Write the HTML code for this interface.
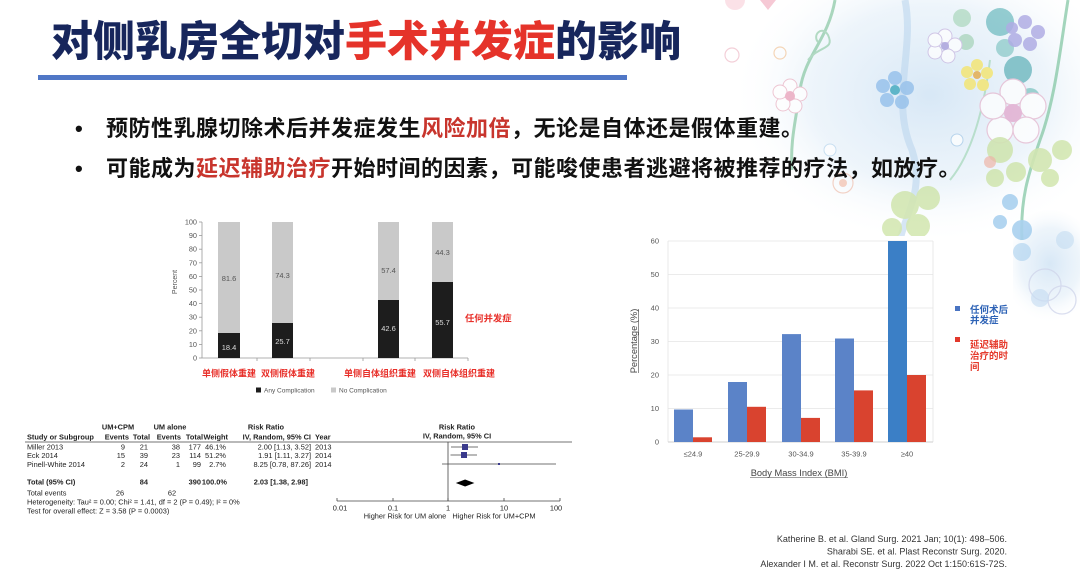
<!DOCTYPE html>
<html><head><meta charset="utf-8">
<style>
html,body{margin:0;padding:0;}
body{width:1080px;height:572px;position:relative;overflow:hidden;background:#fff;font-family:"Liberation Sans","Noto Sans CJK SC",sans-serif;}
.abs{position:absolute;}
#title{left:51px;top:20px;font-size:42px;line-height:44px;font-weight:900;color:#17265c;white-space:nowrap;letter-spacing:0px;}
#title .r{color:#e5332a;}
#bar{left:38px;top:75px;width:589px;height:5px;background:#5077c6;}
.bl{left:75px;font-size:22px;line-height:26px;font-weight:700;color:#111;white-space:nowrap;letter-spacing:0.5px;}
.bl .d{display:inline-block;width:31px;}
.bl .r{color:#c8352d;}
svg{position:absolute;left:0;top:0;}
</style></head>
<body>
<svg width="1080" height="572" viewBox="0 0 1080 572" xmlns="http://www.w3.org/2000/svg">
<defs>
<radialGradient id="wash" cx="0.5" cy="0.45" r="0.5">
<stop offset="0" stop-color="#d3e5f5" stop-opacity="0.9"/>
<stop offset="0.6" stop-color="#e2eef8" stop-opacity="0.6"/>
<stop offset="1" stop-color="#ffffff" stop-opacity="0"/>
</radialGradient>
</defs>
<!-- floral background -->
<ellipse cx="930" cy="110" rx="200" ry="150" fill="url(#wash)"/>
<ellipse cx="1050" cy="270" rx="50" ry="60" fill="url(#wash)"/>
<g opacity="0.75">
<path d="M835,0 C828,40 805,55 800,90 C796,120 790,140 792,170" stroke="#8fcaa8" stroke-width="3" fill="none"/>
<path d="M808,60 C820,45 835,50 828,35 C822,25 812,35 818,42" stroke="#9cd0b0" stroke-width="2" fill="none"/>
<path d="M905,0 C915,50 890,100 912,150 C925,190 905,215 900,240" stroke="#bcd6ee" stroke-width="7" fill="none" opacity="0.8"/>
<path d="M1068,0 C1060,50 1055,100 1040,140 C1028,175 1020,200 1022,240" stroke="#86c8a6" stroke-width="3" fill="none"/>
<path d="M990,60 C985,100 975,150 950,180" stroke="#a9d9bd" stroke-width="2" fill="none"/>
<g opacity="0.85">
<circle cx="1000" cy="22" r="14" fill="#5db3b8"/>
<circle cx="1018" cy="70" r="14" fill="#4ea8b0"/>
<circle cx="1030" cy="98" r="10" fill="#6dbdb8"/>
<circle cx="1005" cy="48" r="9" fill="#7cc2c0"/>
<circle cx="962" cy="18" r="9" fill="#a4d4b6"/>
<circle cx="966" cy="42" r="8" fill="#9dcfb0"/>
</g>
<g fill="#9a94dc" opacity="0.85">
<circle cx="1025" cy="22" r="7"/><circle cx="1038" cy="32" r="7"/><circle cx="1030" cy="44" r="7"/><circle cx="1015" cy="40" r="7"/><circle cx="1012" cy="28" r="6"/>
</g>
<g fill="#fff" stroke="#c9b8e0" stroke-width="1">
<circle cx="945" cy="36" r="7"/><circle cx="955" cy="45" r="7"/><circle cx="948" cy="56" r="7"/><circle cx="935" cy="52" r="7"/><circle cx="935" cy="40" r="7"/>
</g>
<circle cx="945" cy="46" r="4" fill="#a59ad8"/>
<g fill="#f5e463"><circle cx="977" cy="65" r="6"/><circle cx="987" cy="73" r="6"/><circle cx="983" cy="85" r="6"/><circle cx="970" cy="84" r="6"/><circle cx="967" cy="72" r="6"/></g>
<circle cx="977" cy="75" r="4" fill="#e4a43a"/>
<g fill="#86b7e8" opacity="0.9"><circle cx="895" cy="78" r="7"/><circle cx="907" cy="88" r="7"/><circle cx="902" cy="102" r="7"/><circle cx="887" cy="100" r="7"/><circle cx="883" cy="86" r="7"/></g>
<circle cx="895" cy="90" r="5" fill="#34a3b8"/>
<g fill="#fff" stroke="#e6b8cf" stroke-width="1.2">
<circle cx="1013" cy="92" r="13"/><circle cx="1033" cy="106" r="13"/><circle cx="1026" cy="130" r="13"/><circle cx="1000" cy="130" r="13"/><circle cx="993" cy="106" r="13"/>
</g>
<circle cx="1013" cy="113" r="9" fill="#e2a6cc"/>
<g fill="#fff" stroke="#eab4c4" stroke-width="1">
<circle cx="790" cy="86" r="7"/><circle cx="800" cy="94" r="7"/><circle cx="795" cy="106" r="7"/><circle cx="783" cy="104" r="7"/><circle cx="780" cy="92" r="7"/>
</g>
<circle cx="790" cy="96" r="5" fill="#eaa0b8"/>
<circle cx="732" cy="55" r="7" fill="none" stroke="#f0c0cc" stroke-width="1.2"/>
<circle cx="780" cy="53" r="6" fill="none" stroke="#f2c8a0" stroke-width="1.2"/>
<circle cx="843" cy="183" r="10" fill="none" stroke="#f0c4b4" stroke-width="1.2"/>
<circle cx="843" cy="183" r="4" fill="#f3c2b0"/>
<path d="M760,0 l8,10 l8,-10 z" fill="#f3b8c8"/>
<circle cx="735" cy="0" r="10" fill="#f6c6d2" opacity="0.7"/>
<g fill="#c7e09a" opacity="0.9">
<circle cx="905" cy="205" r="14"/><circle cx="928" cy="198" r="12"/><circle cx="918" cy="226" r="12"/><circle cx="892" cy="228" r="10"/>
<circle cx="1000" cy="150" r="13"/><circle cx="1040" cy="160" r="12"/><circle cx="1062" cy="150" r="10"/><circle cx="1050" cy="178" r="9"/><circle cx="1016" cy="172" r="10"/><circle cx="995" cy="178" r="9"/>
</g>
<circle cx="990" cy="162" r="6" fill="#eea08c" opacity="0.7"/>
<g fill="#8ec3ea" opacity="0.9"><circle cx="1010" cy="202" r="8"/><circle cx="1000" cy="222" r="7"/><circle cx="1022" cy="230" r="10"/></g>
<circle cx="957" cy="140" r="6" fill="#fff" stroke="#a8cbe8" stroke-width="1"/>
<circle cx="830" cy="150" r="6" fill="#fff" stroke="#bcd8ee" stroke-width="1"/>
<!-- right edge below chart box -->
<circle cx="1022" cy="252" r="9" fill="#a9cfee" opacity="0.8"/>
<circle cx="1045" cy="285" r="16" fill="none" stroke="#cfd4ea" stroke-width="1.3"/>
<circle cx="1062" cy="300" r="14" fill="none" stroke="#cfd4ea" stroke-width="1.3"/>
<circle cx="1040" cy="298" r="9" fill="#bcd5ef" opacity="0.7"/>
<circle cx="1065" cy="240" r="9" fill="#bdd9ef" opacity="0.7"/>
</g>
<!-- white chart panel -->
<rect x="618" y="236" width="395" height="250" fill="#fff"/>

<!-- ===== Left stacked bar chart ===== -->
<g font-family="Liberation Sans, sans-serif" font-size="7.3" fill="#555">
<line x1="202" y1="222" x2="202" y2="358" stroke="#999" stroke-width="0.8"/>
<line x1="202" y1="358" x2="468" y2="358" stroke="#999" stroke-width="0.8"/>
<g stroke="#999" stroke-width="0.8">
<line x1="199" y1="222" x2="202" y2="222"/><line x1="199" y1="235.6" x2="202" y2="235.6"/><line x1="199" y1="249.2" x2="202" y2="249.2"/><line x1="199" y1="262.8" x2="202" y2="262.8"/><line x1="199" y1="276.4" x2="202" y2="276.4"/><line x1="199" y1="290" x2="202" y2="290"/><line x1="199" y1="303.6" x2="202" y2="303.6"/><line x1="199" y1="317.2" x2="202" y2="317.2"/><line x1="199" y1="330.8" x2="202" y2="330.8"/><line x1="199" y1="344.4" x2="202" y2="344.4"/><line x1="199" y1="358" x2="202" y2="358"/>
<line x1="257" y1="358" x2="257" y2="361"/><line x1="310" y1="358" x2="310" y2="361"/><line x1="363" y1="358" x2="363" y2="361"/><line x1="415" y1="358" x2="415" y2="361"/><line x1="468" y1="358" x2="468" y2="361"/>
</g>
<g text-anchor="end">
<text x="197" y="224.5">100</text><text x="197" y="238">90</text><text x="197" y="251.7">80</text><text x="197" y="265.3">70</text><text x="197" y="278.9">60</text><text x="197" y="292.5">50</text><text x="197" y="306.1">40</text><text x="197" y="319.7">30</text><text x="197" y="333.3">20</text><text x="197" y="346.9">10</text><text x="197" y="360.5">0</text>
</g>
<text transform="translate(177,282) rotate(-90)" text-anchor="middle" font-size="7">Percent</text>
<rect x="218" y="222" width="22" height="111" fill="#c9c9c9"/>
<rect x="218" y="333" width="22" height="25" fill="#1d1d1d"/>
<rect x="272" y="222" width="21" height="101" fill="#c9c9c9"/>
<rect x="272" y="323" width="21" height="35" fill="#1d1d1d"/>
<rect x="378" y="222" width="21" height="78" fill="#c9c9c9"/>
<rect x="378" y="300" width="21" height="58" fill="#1d1d1d"/>
<rect x="432" y="222" width="21" height="60" fill="#c9c9c9"/>
<rect x="432" y="282" width="21" height="76" fill="#1d1d1d"/>
<g text-anchor="middle" font-size="7.5">
<text x="229" y="281" fill="#555">81.6</text><text x="282.5" y="278" fill="#555">74.3</text><text x="388.5" y="273" fill="#555">57.4</text><text x="442.5" y="255" fill="#555">44.3</text>
<text x="229" y="350" fill="#ddd">18.4</text><text x="282.5" y="344" fill="#ddd">25.7</text><text x="388.5" y="331" fill="#ddd">42.6</text><text x="442.5" y="325" fill="#ddd">55.7</text>
</g>
<g font-family="Liberation Sans, Noto Sans CJK SC, sans-serif" font-weight="700" font-size="9" fill="#e8302a">
<text x="202" y="376.5">单侧假体重建</text>
<text x="261" y="376.5">双侧假体重建</text>
<text x="344" y="376.5">单侧自体组织重建</text>
<text x="423" y="376.5">双侧自体组织重建</text>
<text x="465" y="321.5" font-size="9.3">任何并发症</text>
</g>
<rect x="256" y="387.5" width="5" height="5" fill="#1d1d1d"/>
<text x="264" y="392.5" font-size="6.5">Any Complication</text>
<rect x="331" y="387.5" width="5" height="5" fill="#c9c9c9"/>
<text x="339" y="392.5" font-size="6.5">No Complication</text>
</g>

<!-- ===== Forest plot ===== -->
<g font-family="Liberation Sans, sans-serif" font-size="7.4" fill="#222">
<g font-weight="700">
<text x="118" y="429.5" text-anchor="middle">UM+CPM</text>
<text x="170" y="429.5" text-anchor="middle">UM alone</text>
<text x="266" y="429.5" text-anchor="middle">Risk Ratio</text>
<text x="27" y="439.5">Study or Subgroup</text>
<text x="129" y="439.5" text-anchor="end">Events</text>
<text x="150" y="439.5" text-anchor="end">Total</text>
<text x="181" y="439.5" text-anchor="end">Events</text>
<text x="203" y="439.5" text-anchor="end">Total</text>
<text x="228" y="439.5" text-anchor="end">Weight</text>
<text x="311" y="439.5" text-anchor="end">IV, Random, 95% CI</text>
<text x="315" y="439.5">Year</text>
<text x="457" y="429.5" text-anchor="middle">Risk Ratio</text>
<text x="457" y="438.5" text-anchor="middle">IV, Random, 95% CI</text>
</g>
<line x1="25" y1="442" x2="572" y2="442" stroke="#444" stroke-width="0.7"/>
<text x="27" y="449.5">Miller 2013</text>
<text x="125" y="449.5" text-anchor="end">9</text><text x="148" y="449.5" text-anchor="end">21</text><text x="180" y="449.5" text-anchor="end">38</text><text x="201" y="449.5" text-anchor="end">177</text><text x="226" y="449.5" text-anchor="end">46.1%</text><text x="311" y="449.5" text-anchor="end">2.00 [1.13, 3.52]</text><text x="315" y="449.5">2013</text>
<text x="27" y="458">Eck 2014</text>
<text x="125" y="458" text-anchor="end">15</text><text x="148" y="458" text-anchor="end">39</text><text x="180" y="458" text-anchor="end">23</text><text x="201" y="458" text-anchor="end">114</text><text x="226" y="458" text-anchor="end">51.2%</text><text x="311" y="458" text-anchor="end">1.91 [1.11, 3.27]</text><text x="315" y="458">2014</text>
<text x="27" y="467">Pinell-White 2014</text>
<text x="125" y="467" text-anchor="end">2</text><text x="148" y="467" text-anchor="end">24</text><text x="180" y="467" text-anchor="end">1</text><text x="201" y="467" text-anchor="end">99</text><text x="226" y="467" text-anchor="end">2.7%</text><text x="311" y="467" text-anchor="end">8.25 [0.78, 87.26]</text><text x="315" y="467">2014</text>
<g font-weight="700">
<text x="27" y="484.5">Total (95% CI)</text>
<text x="148" y="484.5" text-anchor="end">84</text><text x="201" y="484.5" text-anchor="end">390</text><text x="227" y="484.5" text-anchor="end">100.0%</text><text x="308" y="484.5" text-anchor="end">2.03 [1.38, 2.98]</text>
</g>
<text x="27" y="495.5">Total events</text>
<text x="120" y="495.5" text-anchor="middle">26</text><text x="172" y="495.5" text-anchor="middle">62</text>
<text x="27" y="504.5">Heterogeneity: Tau² = 0.00; Chi² = 1.41, df = 2 (P = 0.49); I² = 0%</text>
<text x="27" y="513.5">Test for overall effect: Z = 3.58 (P = 0.0003)</text>
<!-- plot -->
<line x1="448" y1="442" x2="448" y2="501" stroke="#444" stroke-width="0.8"/>
<line x1="337" y1="501" x2="560" y2="501" stroke="#444" stroke-width="0.8"/>
<g stroke="#444" stroke-width="0.8">
<line x1="337" y1="498" x2="337" y2="501"/><line x1="393" y1="498" x2="393" y2="501"/><line x1="448" y1="498" x2="448" y2="501"/><line x1="504" y1="498" x2="504" y2="501"/><line x1="560" y1="498" x2="560" y2="501"/>
</g>
<g text-anchor="middle">
<text x="340" y="510.5">0.01</text><text x="393" y="510.5">0.1</text><text x="448" y="510.5">1</text><text x="504" y="510.5">10</text><text x="556" y="510.5">100</text>
</g>
<text x="405" y="518.5" text-anchor="middle">Higher Risk for UM alone</text>
<text x="494" y="518.5" text-anchor="middle">Higher Risk for UM+CPM</text>
<line x1="451" y1="447" x2="478" y2="447" stroke="#444" stroke-width="0.7"/>
<rect x="462" y="444" width="6" height="6" fill="#3a3a8c"/>
<line x1="450.5" y1="455" x2="477" y2="455" stroke="#444" stroke-width="0.7"/>
<rect x="461" y="452" width="6" height="6" fill="#3a3a8c"/>
<line x1="442" y1="464" x2="556" y2="464" stroke="#444" stroke-width="0.7"/>
<rect x="498" y="463" width="2" height="2" fill="#3a3a8c"/>
<polygon points="455.8,483 465.1,479.5 474.4,483 465.1,486.5" fill="#000"/>
</g>

<!-- ===== Right BMI chart ===== -->
<g font-family="Liberation Sans, sans-serif" fill="#555">
<g stroke="#e4e4e4" stroke-width="0.8">
<line x1="668" y1="241" x2="933" y2="241"/><line x1="668" y1="274.5" x2="933" y2="274.5"/><line x1="668" y1="308" x2="933" y2="308"/><line x1="668" y1="341.5" x2="933" y2="341.5"/><line x1="668" y1="375" x2="933" y2="375"/><line x1="668" y1="408.5" x2="933" y2="408.5"/>
<line x1="668" y1="241" x2="668" y2="442"/><line x1="933" y1="241" x2="933" y2="442"/>
</g>
<line x1="668" y1="442" x2="933" y2="442" stroke="#cfcfcf" stroke-width="0.9"/>
<g text-anchor="end" font-size="7.5">
<text x="659" y="243.5">60</text><text x="659" y="277">50</text><text x="659" y="310.5">40</text><text x="659" y="344">30</text><text x="659" y="377.5">20</text><text x="659" y="411">10</text><text x="659" y="444.5">0</text>
</g>
<rect x="674" y="409.5" width="19" height="32.5" fill="#5b83c8"/>
<rect x="693" y="437.3" width="19" height="4.7" fill="#d9432f"/>
<rect x="728" y="382" width="19" height="60" fill="#5b83c8"/>
<rect x="747" y="406.8" width="19" height="35.2" fill="#d9432f"/>
<rect x="782" y="334.1" width="19" height="107.9" fill="#5b83c8"/>
<rect x="801" y="417.9" width="19" height="24.1" fill="#d9432f"/>
<rect x="835" y="338.5" width="19" height="103.5" fill="#5b83c8"/>
<rect x="854" y="390.4" width="19" height="51.6" fill="#d9432f"/>
<rect x="888" y="241" width="19" height="201" fill="#3b7fc6"/>
<rect x="907" y="375" width="19" height="67" fill="#d9432f"/>
<g text-anchor="middle" font-size="7.5">
<text x="693" y="456.5">≤24.9</text><text x="747" y="456.5">25-29.9</text><text x="801" y="456.5">30-34.9</text><text x="854" y="456.5">35-39.9</text><text x="907" y="456.5">≥40</text>
</g>
<text x="799" y="476" text-anchor="middle" font-size="9.3" fill="#444">Body Mass Index (BMI)</text>
<line x1="750" y1="477.5" x2="848" y2="477.5" stroke="#444" stroke-width="0.6"/>
<text transform="translate(637,341) rotate(-90)" text-anchor="middle" font-size="9.3" fill="#444">Percentage (%)</text>
<line x1="638.5" y1="373" x2="638.5" y2="309" stroke="#444" stroke-width="0.6"/>
<rect x="955" y="306" width="5" height="5" fill="#4a74c2"/>
<rect x="955" y="337" width="5" height="5" fill="#e2382b"/>
<g font-family="Liberation Sans, Noto Sans CJK SC, sans-serif" font-weight="700" font-size="9.5">
<text x="970" y="313" fill="#2e63b6">任何术后</text>
<text x="970" y="323.5" fill="#2e63b6">并发症</text>
<text x="970" y="348" fill="#e53a2c">延迟辅助</text>
<text x="970" y="359" fill="#e53a2c">治疗的时</text>
<text x="970" y="370" fill="#e53a2c">间</text>
</g>
</g>

<!-- references -->
<g font-family="Liberation Sans, sans-serif" font-size="9" fill="#333" text-anchor="end">
<text x="1007" y="542">Katherine B. et al. Gland Surg. 2021 Jan; 10(1): 498–506.</text>
<text x="1007" y="554.5">Sharabi SE. et al. Plast Reconstr Surg. 2020.</text>
<text x="1007" y="567">Alexander I M. et al.  Reconstr Surg. 2022 Oct 1:150:61S-72S.</text>
</g>
</svg>

<div id="title" class="abs">对侧乳房全切对<span class="r">手术并发症</span>的影响</div>
<div id="bar" class="abs"></div>
<div class="abs bl" style="top:116px;"><span class="d">•</span>预防性乳腺切除术后并发症发生<span class="r">风险加倍</span>，无论是自体还是假体重建。</div>
<div class="abs bl" style="top:156px;"><span class="d">•</span>可能成为<span class="r">延迟辅助治疗</span>开始时间的因素，可能唆使患者逃避将被推荐的疗法，如放疗。</div>
</body></html>
